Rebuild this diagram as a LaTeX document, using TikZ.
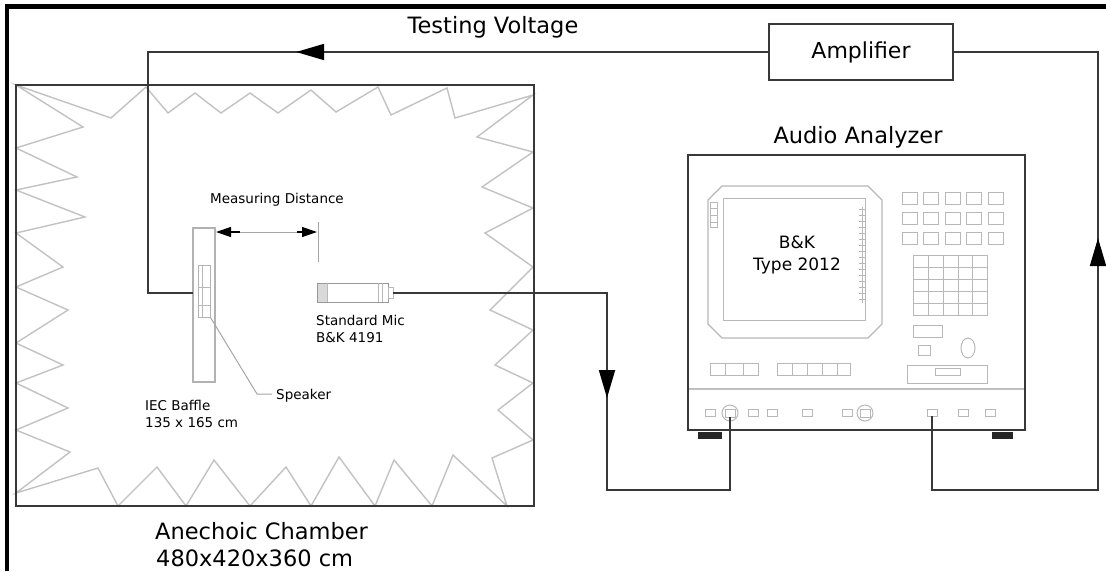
\documentclass[tikz,border=0pt]{standalone}
\usepackage{fontspec}
\setmainfont{DejaVu Sans}
\usetikzlibrary{arrows.meta,decorations.markings}
\begin{document}
\begin{tikzpicture}[x=1pt,y=-1pt,
  wire/.style={draw=black!78, line width=1.8pt, line join=miter},
  box/.style={draw=black!78, line width=1.8pt, inner sep=0pt},
  zig/.style={draw=black!24, line width=1.4pt, line join=miter},
  det/.style={draw=black!28, line width=1pt},
  fine/.style={draw=black!35, line width=1pt},
  bigtxt/.style={font=\fontsize{22.5}{27}\selectfont, inner sep=0pt},
  smalltxt/.style={font=\fontsize{13.5}{17}\selectfont, inner sep=0pt, align=left},
  amark/.style={postaction={decorate}, decoration={markings, mark=at position #1 with {\arrow[black]{Triangle[length=28pt,width=16pt]}}}},
  dimarrow/.style={draw=black, fill=black, line width=1.3pt, -{Triangle[length=15pt,width=10pt]}}
]
\useasboundingbox (0,0) rectangle (1106,571);
\fill[white] (0,0) rectangle (1106,571);

% outer frame (top and left)
\draw[line width=4.5pt] (7,571) -- (7,6.5) -- (1106,6.5);

% anechoic wedges
\draw[zig] (16,85) -- (111,118) -- (146,87) -- (168,113) -- (195,93) -- (221,113) -- (250,93) -- (278,113) -- (311,90) -- (336,112) -- (378,87) -- (391,115) -- (447,88) -- (455,118) -- (533,95) -- (477,137) -- (533,152) -- (482,187) -- (533,208) -- (485,233) -- (533,267) -- (490,310) -- (533,330) -- (495,365) -- (533,383) -- (498,410) -- (533,440) -- (492,458) -- (507,506) -- (453,455) -- (432,506) -- (394,460) -- (375,506) -- (339,457) -- (311,506) -- (286,467) -- (250,506) -- (214,460) -- (186,506) -- (157,467) -- (118,506) -- (98,468) -- (16,493) -- (70,452) -- (16,430) -- (68,408) -- (16,383) -- (63,365) -- (16,343) -- (68,310) -- (16,287) -- (63,267) -- (16,233) -- (85,217) -- (16,190) -- (77,177) -- (16,148) -- (83,127) -- cycle;

% chamber
\node[box, line width=2.2pt, minimum width=518pt, minimum height=421pt] (chamber) at (275,295.5) {};

% baffle and speaker
\node[draw=black!30, line width=1.2pt, minimum width=22pt, minimum height=154pt, inner sep=0pt] (baffle) at (204,305) {};
\node[draw=black!30, line width=1pt, minimum width=12pt, minimum height=52pt, inner sep=0pt] (spk) at (204,291) {};
\draw[det] (202,265) -- (202,317);
\draw[det] (198,287) -- (210,287) (198,305) -- (210,305);
\coordinate (bin) at (193,293);

% speaker leader
\coordinate (spkleader) at (272,394);
\draw[fine] (spk.south east) -- (257,394) -- (spkleader);
\node[smalltxt, anchor=west] (spklabel) at (276,396) {Speaker};

% microphone
\node[draw=black!40, line width=1pt, minimum width=71pt, minimum height=19pt, inner sep=0pt] (mic) at (352.5,292.5) {};
\fill[black!15] (317.5,283.5) rectangle (327,301.5);
\draw[det] (327,283) -- (327,302) (378,283) -- (378,302) (382,283) -- (382,302);
\draw[det] (388,287) rectangle (393,298);
\coordinate (micout) at (393,293);

% measuring distance
\coordinate (dA) at (240,232);
\coordinate (dB) at (297,232);
\coordinate (dL) at (216,232);
\coordinate (dR) at (317,232);
\draw[fine] (dA) -- (dB);
\draw[dimarrow] (dA) -- (dL);
\draw[dimarrow] (dB) -- (dR);
\draw[fine] (318,222) -- (318,262);
\node[smalltxt, anchor=center] (mdlabel) at (277,200) {Measuring Distance};

% texts in chamber
\node[smalltxt, anchor=north west] (miclabel) at (316,315) {Standard Mic\\B\&K 4191};
\node[smalltxt, anchor=north west] (bafflelabel) at (145,400) {IEC Baffle\\135 x 165 cm};

\node[bigtxt, anchor=west] (chlabel1) at (155,531) {Anechoic Chamber};
\node[bigtxt, anchor=west] (chlabel2) at (156,558) {480x420x360 cm};

% amplifier
\node[box, minimum width=184pt, minimum height=56pt, font=\fontsize{22}{26}\selectfont] (amp) at (861,52) {Amplifier};
\node[bigtxt] (tvlabel) at (493,27) {Testing Voltage};

% audio analyzer
\node[box, minimum width=337pt, minimum height=275pt] (ana) at (856.5,292.5) {};
\node[bigtxt] (analabel) at (858,137) {Audio Analyzer};
\fill[black!85] (698,431.5) rectangle (722,439);
\fill[black!85] (992,431.5) rectangle (1013,439);
\draw[draw=black!25, line width=1.6pt] (689,389) -- (1024,389);
% screen
\draw[det, line width=1.2pt] (722,186) -- (868,186) -- (882,200) -- (882,324) -- (868,338) -- (722,338) -- (708,324) -- (708,200) -- cycle;
\draw[det] (723,198) rectangle (865,320);
\node[font=\fontsize{17}{22}\selectfont, align=center, inner sep=0pt] (anatext) at (797,255) {B\&K\\Type 2012};
\draw[det] (710,202) rectangle (717,227);
\draw[det] (710,208) -- (717,208) (710,215) -- (717,215) (710,222) -- (717,222);
\draw[det] (862,207) -- (862,303);
\foreach \t in {0,...,15} \draw[det, line width=0.8pt] (859,{209+\t*6}) -- (865,{209+\t*6});
% button grid
\foreach \c in {0,...,4} \foreach \r in {0,1,2}
  \draw[det] ({902+\c*21.5},{192+\r*20}) rectangle +(15,12);
% keypad
\draw[det] (913,255) rectangle (987,315);
\foreach \xx in {928,943,958,972} \draw[det] (\xx,255) -- (\xx,315);
\foreach \yy in {267,279,291,303} \draw[det] (913,\yy) -- (987,\yy);
\draw[det] (913,325) rectangle (942,337);
\draw[det] (918,345) rectangle (930,355);
\draw[det] (968,348) ellipse [x radius=7, y radius=10];
\draw[det] (907,365) rectangle (987,383);
\draw[det] (935,368) rectangle (960,375);
% lower buttons
\draw[det] (710,363) rectangle (758,375);
\draw[det] (725,363) -- (725,375) (743,363) -- (743,375);
\draw[det] (777,363) rectangle (850,375);
\foreach \xx in {792,807,822,837} \draw[det] (\xx,363) -- (\xx,375);
% front ports
\foreach \xa in {705,748,767,802,842,927,958,985} \draw[det] (\xa,409) rectangle +(10,7);
\draw[det] (730,413) circle (8);
\draw[det] (725,409) rectangle (735,417);
\draw[det] (865,413) circle (8);
\draw[det] (860,409) rectangle (870,417);
\coordinate (p1) at (730,417);
\coordinate (p2) at (932,416);

% wires
\coordinate (xl) at (148,0);
\coordinate (mx) at (607,0);
\coordinate (bot) at (0,490);
\coordinate (rx) at (1098,0);
\draw[wire, amark=472pt] (amp.west) -- (amp.west -| xl) |- (bin);
\draw[wire, amark=319pt] (micout) -- (micout -| mx) -- (mx |- bot) -| (p1);
\draw[wire, amark=492pt] (p2) -- (p2 |- bot) -| (rx |- amp.east) -- (amp.east);
\end{tikzpicture}
\end{document}
